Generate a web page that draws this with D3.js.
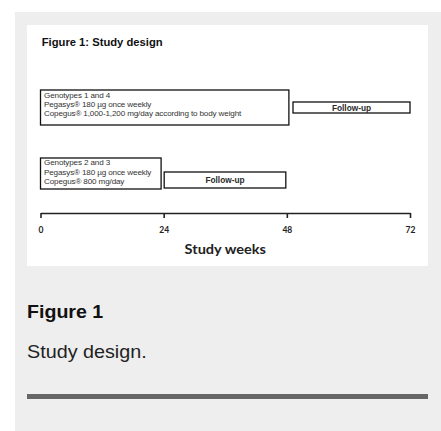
<!DOCTYPE html>
<html><head><meta charset="utf-8">
<script src="https://cdn.jsdelivr.net/npm/d3@7"></script>
<style>body{margin:0;background:#fff;}svg{display:block;}</style>
</head><body>
<svg id="c" width="441" height="431"></svg>
<script>
// ---- data ----
const tickWeeks = [0, 24, 48, 72];
const phaseLabels = ["Genotypes 1 and 4 treatment", "Follow-up (1/4)", "Genotypes 2 and 3 treatment", "Follow-up (2/3)"];
const phaseStart = [0, 49.2, 0, 24.1];
const phaseEnd = [48.4, 72, 23.5, 47.8];
const phaseRow = [0, 0, 1, 1];
const phaseKind = ["treat", "follow", "treat", "follow"];
const treatLines = [
  ["Genotypes 1 and 4", "Pegasys\u00AE 180 \u00B5g once weekly", "Copegus\u00AE 1,000-1,200 mg/day according to body weight"],
  ["Genotypes 2 and 3", "Pegasys\u00AE 180 \u00B5g once weekly", "Copegus\u00AE 800 mg/day"]
];
const followText = "Follow-up";
const chartTitle = "Figure 1: Study design";
const axisTitle = "Study weeks";
const captionTitle = "Figure 1";
const captionText = "Study design.";

const svg = d3.select("#c");
const ARIAL = "Liberation Sans, Arial, sans-serif";
const CAL = "Lato, 'Open Sans', sans-serif";

function txt(x, y, s, opts) {
  const t = svg.append("text")
    .attr("transform", `translate(${x},${y}) scale(${opts.sx || 1},1)`)
    .text(s)
    .attr("font-family", opts.family || ARIAL)
    .attr("font-size", opts.size)
    .attr("fill", opts.fill || "#111");
  if (opts.bold) t.attr("font-weight", "bold");
  if (opts.anchor) t.attr("text-anchor", opts.anchor);
  if (opts.ls) t.attr("letter-spacing", opts.ls);
  return t;
}

// backgrounds
svg.append("rect").attr("x", 15).attr("y", 12).attr("width", 426).attr("height", 419).attr("fill", "#eeeeee");
svg.append("rect").attr("x", 27).attr("y", 25).attr("width", 401).attr("height", 241).attr("fill", "#ffffff");

const x = d3.scaleLinear().domain([0, 72]).range([40.5, 410]);

txt(41.7, 45.7, chartTitle, {size: 10.4, bold: true, sx: 1.08, fill: "#111"});

const rowTreat = [{y: 90, h: 35}, {y: 158, h: 31}];
const rowFollow = [{y: 102, h: 11}, {y: 172, h: 16}];
const treatBase = [98, 165.3];

phaseLabels.forEach((lab, i) => {
  const r = phaseRow[i];
  const geo = phaseKind[i] === "treat" ? rowTreat[r] : rowFollow[r];
  const x0 = x(phaseStart[i]), x1 = x(phaseEnd[i]);
  svg.append("rect").attr("x", x0).attr("y", geo.y).attr("width", x1 - x0).attr("height", geo.h)
    .attr("fill", "#fff").attr("stroke", "#111").attr("stroke-width", 1.3);
  if (phaseKind[i] === "treat") {
    treatLines[r].forEach((t, j) => {
      txt(x0 + 3.5, treatBase[r] + j * 9.2, t, {size: 7.1, sx: 1.14, ls: -0.12, fill: "#333"});
    });
  } else {
    txt((x0 + x1) / 2, geo.y + geo.h / 2 + 3, followText, {size: 8.3, bold: true, anchor: "middle", fill: "#2a2a2a"});
  }
});

// axis
const axisG = svg.append("g").attr("transform", "translate(0,213)")
  .call(d3.axisBottom(x).tickValues(tickWeeks).tickSize(5).tickSizeOuter(0).tickPadding(9));
axisG.select(".domain").attr("stroke", "#222").attr("stroke-width", 1.6);
axisG.selectAll(".tick line").attr("stroke", "#222").attr("stroke-width", 1.6);
axisG.selectAll(".tick text").attr("font-family", CAL).attr("font-weight", "bold")
  .attr("font-size", 8.5).attr("fill", "#222");

txt(x(36), 254.3, axisTitle, {size: 13, bold: true, family: CAL, sx: 1.12, anchor: "middle", fill: "#222"});

// caption
txt(27, 318.3, captionTitle, {size: 18.5, bold: true, sx: 1.06, fill: "#111"});
txt(27, 357.7, captionText, {size: 19, sx: 1.04, fill: "#222"});
svg.append("rect").attr("x", 27).attr("y", 394).attr("width", 401).attr("height", 5).attr("fill", "#666");
</script>
</body></html>
